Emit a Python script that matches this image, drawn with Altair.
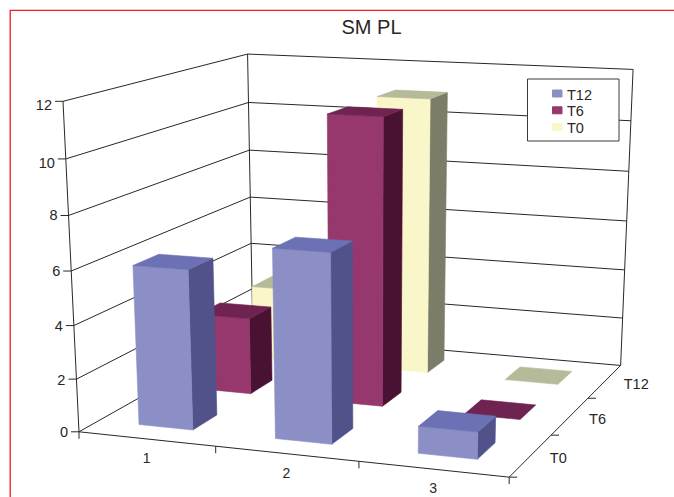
import numpy as np
import altair as alt

# Chart values
categories = ["1", "2", "3"]
depth_labels = ["T0", "T6", "T12"]
legend_labels = ["T12", "T6", "T0"]
value_ticks = [0, 2, 4, 6, 8, 10, 12]
value_label_nudge = [0, 1, 0, 0, 0, 3.6, 3.7]
# One row per depth position, front to back
series_values = {
    "T12": [6.0, 7.0, 1.0],
    "T6": [3.0, 11.0, 0.0],
    "T0": [3.0, 11.0, 0.0],
}
series_colors = {
    "T12": ("#8B8FC6", "#51528A", "#6C70B4"),
    "T6": ("#96386E", "#4A1232", "#6E2350"),
    "T0": ("#F9F7C9", "#7B7D68", "#B5BA98"),
}
INK = "#2A2627"
FRAME_RED = "#EC1C2E"
W, H = 674, 497
GAP = 0.3  # share of a category cell left empty on each side of a bar

# Camera: reference points of the box (cell x, value, cell z) -> screen position
camera_points = [
    ((0, 0, 0), (79.3, 431.3)), ((1, 0, 0), (215, 447)), ((2, 0, 0), (359, 462)),
    ((3, 0, 0), (509, 477)), ((3, 0, 1), (551.3, 434.7)), ((3, 0, 2), (587.7, 398.7)),
    ((3, 0, 3), (621, 365)), ((0, 0, 3), (252.5, 334.5)),
    ((0, 2, 0), (76.7, 378.7)), ((0, 4, 0), (74, 325.7)), ((0, 6, 0), (71.5, 270.7)),
    ((0, 8, 0), (69, 215.7)), ((0, 10, 0), (65.7, 158.7)), ((0, 12, 0), (62.3, 101.3)),
    ((0, 4, 3), (251.7, 243)), ((0, 6, 3), (250, 197)), ((0, 8, 3), (249, 150)),
    ((0, 10, 3), (248.3, 102.7)), ((0, 12, 3), (248, 54)),
    ((3, 2, 3), (622.3, 317.7)), ((3, 4, 3), (624.3, 269.7)), ((3, 6, 3), (627, 221)),
    ((3, 8, 3), (629, 171.3)), ((3, 10, 3), (631, 120.7)), ((3, 12, 3), (633, 70)),
]


def fit_camera(points):
    rows = []
    for (x, y, z), (u, v) in points:
        rows.append([x, y, z, 1, 0, 0, 0, 0, -u * x, -u * y, -u * z, -u])
        rows.append([0, 0, 0, 0, x, y, z, 1, -v * x, -v * y, -v * z, -v])
    return np.linalg.svd(np.array(rows, dtype=float))[2][-1].reshape(3, 4)


CAMERA = fit_camera(camera_points)


def project(x, y, z):
    p = CAMERA @ np.array([x, y, z, 1.0])
    return [float(p[0] / p[2]), float(p[1] / p[2])]


def polygon(corners, fill, stroke=None):
    ring = corners + [corners[0]]
    return {
        "type": "Feature",
        "geometry": {"type": "Polygon", "coordinates": [ring]},
        "properties": {"fill": fill, "stroke": stroke or fill},
    }


def line(points, color=INK):
    return {
        "type": "Feature",
        "geometry": {"type": "LineString", "coordinates": points},
        "properties": {"stroke": color},
    }


# Box frame and gridlines
frame = []
for v in value_ticks:
    frame.append(line([project(0, v, 0), project(0, v, 3), project(3, v, 3)]))
frame.append(line([project(0, 0, 0), project(0, 12, 0)]))
frame.append(line([project(0, 0, 3), project(0, 12, 3)]))
frame.append(line([project(3, 0, 3), project(3, 12, 3)]))
frame.append(line([project(0, 0, 0), project(3, 0, 0), project(3, 0, 3)]))
for v in value_ticks:
    u, w = project(0, v, 0)
    frame.append(line([[u - 8, w], [u, w]]))
for i in range(4):
    u, w = project(i, 0, 0)
    frame.append(line([[u, w], [u, w + 7]]))
for i in range(3):
    u, w = project(3, 0, i)
    frame.append(line([[u, w], [u + 8, w]]))

# Bars, painted back to front and left to right
bars = []
for row, name in reversed(list(enumerate(legend_labels))):
    front, side, top = series_colors[name]
    for col, value in enumerate(series_values[name]):
        x0, x1 = col + GAP, col + 1 - GAP
        z0, z1 = row + GAP, row + 1 - GAP
        if value > 0:
            bars.append(polygon([project(x1, 0, z0), project(x1, 0, z1),
                                 project(x1, value, z1), project(x1, value, z0)], side))
            bars.append(polygon([project(x0, 0, z0), project(x1, 0, z0),
                                 project(x1, value, z0), project(x0, value, z0)], front))
        bars.append(polygon([project(x0, value, z0), project(x1, value, z0),
                             project(x1, value, z1), project(x0, value, z1)], top))

# Legend box and swatches
legend_shapes = [polygon([[527.5, 79], [619, 79], [619, 141], [527.5, 141]], "#FFFFFF", "#3A3A3A")]
for i, name in enumerate(legend_labels):
    t = 90 + i * 16.8
    legend_shapes.append(polygon([[552.5, t], [562, t], [562, t + 7], [552.5, t + 7]], series_colors[name][0]))

border = [line([[10.2, H], [10.2, 10.3], [W, 10.3]], FRAME_RED)]

# Text rows
value_text = []
for v, nudge in zip(value_ticks, value_label_nudge):
    u, w = project(0, v, 0)
    value_text.append({"lon": u - 11, "lat": w + nudge + 1, "text": str(v)})
cat_text = []
for i, c in enumerate(categories):
    u, w = project(i + 0.5, 0, 0)
    cat_text.append({"lon": u, "lat": w + 20, "text": c})
depth_text = []
for i, d in enumerate(depth_labels):
    u, w = project(3, 0, i + 0.5)
    depth_text.append({"lon": u + 19, "lat": w + 4, "text": d})
legend_text = [{"lon": 567, "lat": 95.5 + i * 16.5, "text": n} for i, n in enumerate(legend_labels)]
title_text = [{"lon": 371.5, "lat": 28, "text": "SM PL"}]

projection = alt.Projection(type="identity", scale=1, translate=[0, 0])


def shapes(features, filled=True, width=0.6):
    data = alt.Data(values=features)
    if filled:
        return alt.Chart(data).mark_geoshape(strokeWidth=width).encode(
            fill=alt.Fill("properties.fill:N", scale=None),
            stroke=alt.Stroke("properties.stroke:N", scale=None),
        ).project(**projection.to_dict())
    return alt.Chart(data).mark_geoshape(filled=False, strokeWidth=width).encode(
        stroke=alt.Stroke("properties.stroke:N", scale=None),
    ).project(**projection.to_dict())


def labels(rows, size, align, baseline="middle"):
    return alt.Chart(alt.Data(values=rows)).mark_text(
        font="Liberation Sans", fontSize=size, align=align, baseline=baseline, color=INK,
    ).encode(
        longitude="lon:Q", latitude="lat:Q", text="text:N",
    ).project(**projection.to_dict())


chart = alt.layer(
    shapes(border, filled=False, width=1.3),
    shapes(frame, filled=False, width=1.0),
    shapes(bars),
    shapes(legend_shapes, width=1.0),
    labels(value_text, 14.5, "right"),
    labels(cat_text, 14, "center"),
    labels(depth_text, 14.5, "left"),
    labels(legend_text, 14.5, "left"),
    labels(title_text, 20, "center"),
).properties(
    width=W, height=H, padding=0, background="#FFFFFF",
    autosize=alt.AutoSizeParams(type="none"),
).configure_view(stroke=None)

chart.save("out.html", embed_options={"renderer": "svg", "actions": False})
